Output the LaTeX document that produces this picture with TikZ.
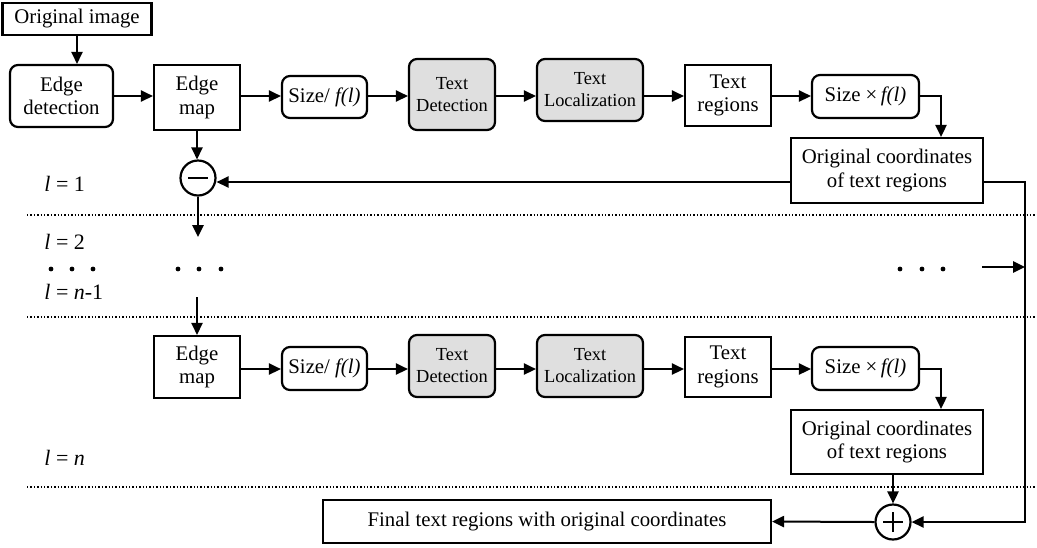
\documentclass[tikz,border=0pt]{standalone}
\usepackage{fontspec}
\setmainfont{Liberation Serif}
\usetikzlibrary{arrows.meta}

\begin{document}
\begin{tikzpicture}[x=0.5pt,y=-0.5pt,
    box/.style={draw,line width=1.1pt,inner sep=0pt,align=center,font=\fontsize{10.4}{11.8}\selectfont},
    rbox/.style={box,rounded corners=4pt},
    gbox/.style={rbox,fill=gray!25,font=\fontsize{9.2}{11}\selectfont},
    sumc/.style={draw,circle,line width=1.1pt,minimum size=17.5pt,inner sep=0pt},
    arr/.style={-{Triangle[length=6pt,width=5.6pt]},line width=1pt},
    lvl/.style={anchor=west,inner sep=0pt,font=\fontsize{11}{12}\selectfont},
    sep/.style={densely dotted,line width=0.7pt}]
  \useasboundingbox (0,0) rectangle (1037,547);
  \draw
    (77,19) node[box,minimum width=74.5pt,minimum height=16pt] (orig){Original image}
    (61.5,96) node[rbox,minimum width=51.5pt,minimum height=31pt] (edet){Edge\\detection}
    (197,97.5) node[box,minimum width=43pt,minimum height=32.5pt] (emap1){Edge\\map}
    (324.5,97) node[rbox,minimum width=42.5pt,minimum height=21pt] (sdiv1){Size/ \textit{f(l)}}
    (452,94.5) node[gbox,minimum width=43pt,minimum height=35.5pt] (tdet1){Text\\Detection}
    (590,90) node[gbox,minimum width=53pt,minimum height=31pt] (tloc1){Text\\Localization}
    (728,95.5) node[box,minimum width=43pt,minimum height=30.5pt] (treg1){Text\\regions}
    (865.5,96.5) node[rbox,minimum width=53.5pt,minimum height=21.5pt] (smul1){Size~×\,\textit{f(l)}}
    (887,170.5) node[box,minimum width=96pt,minimum height=32.5pt] (ocrd1){Original coordinates\\of text regions}
    (198,178) node[sumc] (minus){}
    (197,367) node[box,minimum width=43pt,minimum height=31pt] (emap2){Edge\\map}
    (324.5,368.5) node[rbox,minimum width=42.5pt,minimum height=21.5pt] (sdiv2){Size/ \textit{f(l)}}
    (452,366) node[gbox,minimum width=43pt,minimum height=31pt] (tdet2){Text\\Detection}
    (590,366) node[gbox,minimum width=53pt,minimum height=31pt] (tloc2){Text\\Localization}
    (728,367) node[box,minimum width=43pt,minimum height=30pt] (treg2){Text\\regions}
    (865.5,368.5) node[rbox,minimum width=53.5pt,minimum height=21.5pt] (smul2){Size~×\,\textit{f(l)}}
    (887,442) node[box,minimum width=96pt,minimum height=32pt] (ocrd2){Original coordinates\\of text regions}
    (893,522) node[sumc] (plus){}
    (547,521.5) node[box,minimum width=224pt,minimum height=21.5pt] (final){Final text regions with original coordinates};
  \draw
    (44,184) node[lvl] (l1){\textit{l} = 1}
    (44,242) node[lvl] (l2){\textit{l} = 2}
    (44,292) node[lvl] (ln1){\textit{l} = \textit{n}-1}
    (44,458) node[lvl] (ln){\textit{l} = \textit{n}};
  \draw[line width=1pt] ([xshift=-5pt]minus.center) -- ([xshift=5pt]minus.center)
    ([xshift=-5pt]plus.center) -- ([xshift=5pt]plus.center)
    ([yshift=-5pt]plus.center) -- ([yshift=5pt]plus.center);
  \foreach \y in {215,317,487}
    \draw[sep] (27,\y) -- (1037,\y);
  \foreach \x in {51,72,93,178,199,221,900,922,943}
    \fill (\x,269) circle (1.2pt);
  \coordinate (r1) at (0,96);
  \coordinate (r2) at (0,369);
  \coordinate (fb1) at (0,182);
  \coordinate (rail) at (1025,522);
  \coordinate (gap1) at (198,237);
  \coordinate (gap2) at (197,297);
  \coordinate (more) at (982,267);
  \begin{scope}[arr]
    \draw (orig.south) -- (orig.south |- edet.north);
    \draw (edet.east |- r1) -- (emap1.west |- r1);
    \foreach \a/\b in {emap1/sdiv1,sdiv1/tdet1,tdet1/tloc1,tloc1/treg1,treg1/smul1}
      \draw (\a.east |- r1) -- (\b.west |- r1);
    \foreach \a/\b in {emap2/sdiv2,sdiv2/tdet2,tdet2/tloc2,tloc2/treg2,treg2/smul2}
      \draw (\a.east |- r2) -- (\b.west |- r2);
    \draw (smul1.east |- r1) -| ([xshift=27pt]ocrd1.north);
    \draw (smul2.east |- r2) -| ([xshift=27pt]ocrd2.north);
    \draw (ocrd1.west |- fb1) -- (minus.east |- fb1);
    \draw (emap1.south) -- (emap1.south |- minus.north);
    \draw (minus.south) -- (gap1);
    \draw (gap2) -- (emap2.north);
    \draw (ocrd1.east |- fb1) -| (rail) -- (plus.east);
    \draw (more) -- (rail |- more);
    \draw (plus |- ocrd2.south) -- (plus.north);
    \draw (plus.west) -- (final.east);
  \end{scope}
\end{tikzpicture}
\end{document}
